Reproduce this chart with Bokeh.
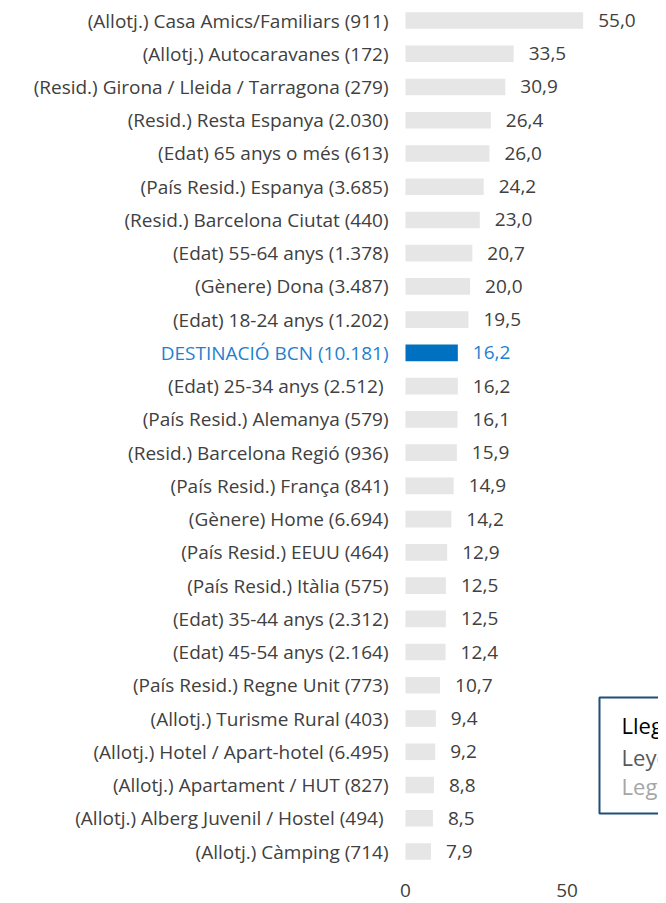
from bokeh.plotting import figure
from bokeh.models import Range1d, FixedTicker, ColumnDataSource
from bokeh.core.properties import value
from bokeh.embed import file_html
from bokeh.resources import INLINE

categories = [
    "(Allotj.) Casa Amics/Familiars (911)",
    "(Allotj.) Autocaravanes (172)",
    "(Resid.) Girona / Lleida / Tarragona (279)",
    "(Resid.) Resta Espanya (2.030)",
    "(Edat) 65 anys o més (613)",
    "(País Resid.) Espanya (3.685)",
    "(Resid.) Barcelona Ciutat (440)",
    "(Edat) 55-64 anys (1.378)",
    "(Gènere) Dona (3.487)",
    "(Edat) 18-24 anys (1.202)",
    "DESTINACIÓ BCN (10.181)",
    "(Edat) 25-34 anys  (2.512)",
    "(País Resid.) Alemanya (579)",
    "(Resid.) Barcelona Regió (936)",
    "(País Resid.) França (841)",
    "(Gènere) Home (6.694)",
    "(País Resid.) EEUU (464)",
    "(País Resid.) Itàlia (575)",
    "(Edat) 35-44 anys (2.312)",
    "(Edat) 45-54 anys (2.164)",
    "(País Resid.) Regne Unit (773)",
    "(Allotj.) Turisme Rural (403)",
    "(Allotj.) Hotel / Apart-hotel (6.495)",
    "(Allotj.) Apartament / HUT (827)",
    "(Allotj.) Alberg Juvenil / Hostel  (494)",
    "(Allotj.) Càmping (714)",
]
values = [55.0, 33.5, 30.9, 26.4, 26.0, 24.2, 23.0, 20.7, 20.0, 19.5, 16.2,
          16.2, 16.1, 15.9, 14.9, 14.2, 12.9, 12.5, 12.5, 12.4, 10.7, 9.4,
          9.2, 8.8, 8.5, 7.9]
highlight = "DESTINACIÓ BCN (10.181)"
x_ticks = [0, 50]
legend_lines = ["Llegenda", "Leyenda", "Legend"]

GREY_BAR = "#e6e6e6"
BLUE_BAR = "#0070c0"
TEXT = "#404040"
BLUE_TEXT = "#1f7fd0"
FONT = "Open Sans"

n = len(categories)
ys = [n - 1 - i for i in range(n)]
bar_colors = [BLUE_BAR if c == highlight else GREY_BAR for c in categories]
text_colors = [BLUE_TEXT if c == highlight else TEXT for c in categories]
val_labels = [f"{v:.1f}".replace(".", ",") for v in values]

src = ColumnDataSource(dict(y=ys, v=values, cat=categories, bc=bar_colors,
                            tc=text_colors, vl=val_labels, zero=[0] * n))

FW, FH = 658, 863
PX_PER_UNIT = 3.23
ROW = 33.24
x0 = -405 / PX_PER_UNIT
y1 = (n - 1) + 20 / ROW
p = figure(frame_width=FW, frame_height=FH, output_backend="svg",
           toolbar_location=None,
           x_range=Range1d(x0, x0 + FW / PX_PER_UNIT),
           y_range=Range1d(y1 - FH / ROW, y1),
           min_border_left=0, min_border_right=0, min_border_top=0,
           min_border_bottom=0)
p.outline_line_color = None
p.grid.visible = False
p.yaxis.visible = False
p.background_fill_color = "white"
p.border_fill_color = "white"

p.hbar(y="y", left=0, right="v", height=0.5, fill_color="bc", line_color=None,
       source=src)
p.text(x="zero", y="y", text="cat", text_align="right", text_baseline="middle",
       x_offset=-17, text_font=value(FONT), text_font_size="19px",
       text_color="tc", source=src)
p.text(x="v", y="y", text="vl", text_align="left", text_baseline="middle",
       x_offset=15, text_font=value(FONT), text_font_size="19px",
       text_color="tc", source=src)

ax = p.xaxis[0]
ax.ticker = FixedTicker(ticks=x_ticks)
ax.axis_line_color = None
ax.major_tick_line_color = None
ax.minor_tick_line_color = None
ax.major_tick_out = 0
ax.major_tick_in = 0
ax.major_label_text_font = FONT
ax.major_label_text_font_size = "19px"
ax.major_label_text_color = TEXT
ax.major_label_standoff = 20

# legend box (cut off at the right edge, as in the reference)
p.quad(left=[60.06], right=[120], top=[4.63], bottom=[1.14], fill_color="white",
       line_color="#1f4e79", line_width=2)
leg_y = [3.82, 2.83, 1.96]
leg_c = ["#000000", "#595959", "#a6a6a6"]
p.text(x=[66.9] * 3, y=leg_y, text=legend_lines, text_align="left",
       text_baseline="middle", text_font=value(FONT), text_font_size="22px",
       text_color=leg_c)

open("out.html", "w").write(file_html(p, INLINE))
